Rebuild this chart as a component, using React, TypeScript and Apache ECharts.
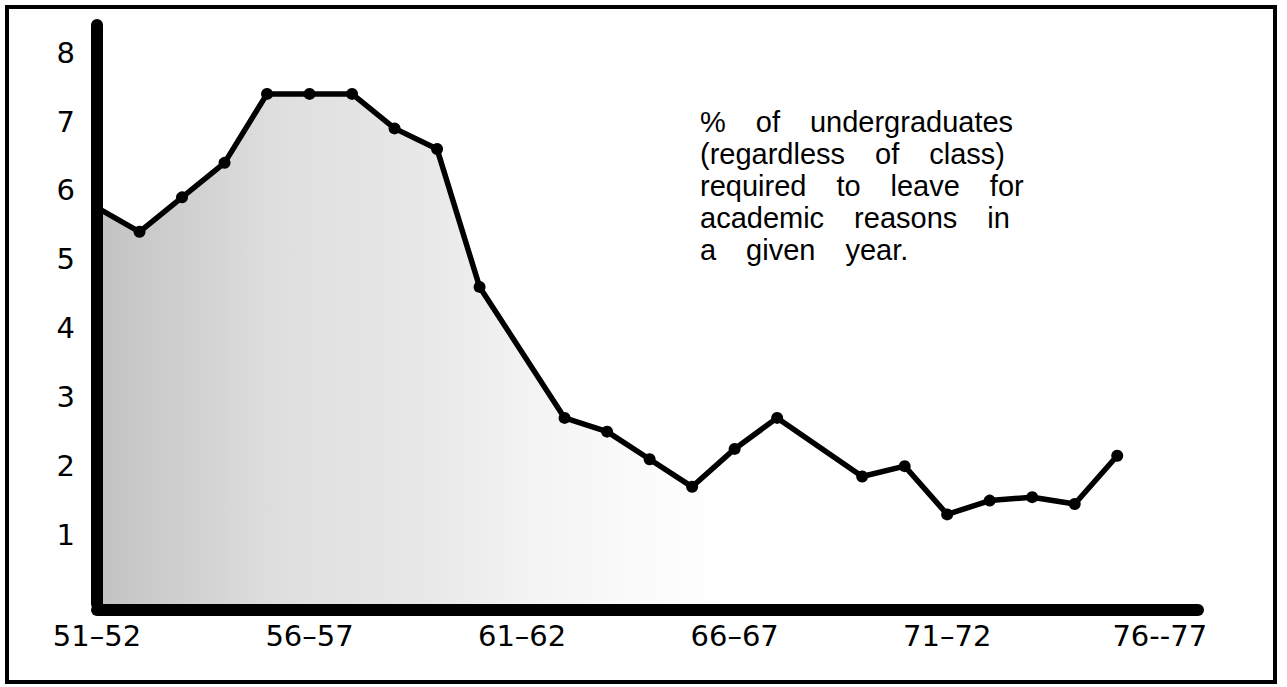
import React, { useEffect, useRef } from 'react';
import * as echarts from 'echarts';

const years: string[] = [
  '51–52', '52–53', '53–54', '54–55', '55–56', '56–57', '57–58', '58–59', '59–60', '60–61',
  '61–62', '62–63', '63–64', '64–65', '65–66', '66–67', '67–68', '68–69', '69–70', '70–71',
  '71–72', '72–73', '73–74', '74–75', '75–76', '76--77',
];

const rates: (number | null)[] = [
  5.75, 5.4, 5.9, 6.4, 7.4, 7.4, 7.4, 6.9, 6.6, 4.6,
  null, 2.7, 2.5, 2.1, 1.7, 2.25, 2.7, null, 1.85, 2.0,
  1.3, 1.5, 1.55, 1.45, 2.15, null,
];

const noteLines: string[] = [
  '% of undergraduates',
  '(regardless of class)',
  'required to leave for',
  'academic reasons in',
  'a given year.',
];

const FONT = '"Liberation Sans", Arial, Helvetica, sans-serif';
const AXIS_FONT = '"DejaVu Sans", "Liberation Sans", sans-serif';
const GAP = '   \u2009';

export default function App() {
  const ref = useRef<HTMLDivElement>(null);
  useEffect(() => {
    const chart = echarts.init(ref.current!, null, { renderer: 'svg' });
    const points = rates
      .map((v, i) => [i, v])
      .filter((p) => p[1] !== null);
    chart.setOption({
      animation: false,
      backgroundColor: '#ffffff',
      grid: { left: 97, right: 89, top: 25, bottom: 83 },
      xAxis: {
        type: 'value',
        min: 0,
        max: 25.9,
        interval: 5,
        offset: 6,
        axisLine: { show: true, onZero: false, lineStyle: { color: '#000', width: 12 } },
        axisTick: { show: false },
        splitLine: { show: false },
        axisLabel: {
          margin: 11,
          fontSize: 29,
          color: '#000',
          fontFamily: AXIS_FONT,
          showMaxLabel: true,
          formatter: (v: number) =>
            Number.isInteger(v) && v % 5 === 0 && v < years.length ? years[v] : '',
        },
      },
      yAxis: {
        type: 'value',
        min: 0,
        max: 8.4,
        interval: 1,
        axisLine: { show: true, lineStyle: { color: '#000', width: 12 } },
        axisTick: { show: false },
        splitLine: { show: false },
        axisLabel: {
          margin: 22,
          fontSize: 29,
          color: '#000',
          fontFamily: AXIS_FONT,
          formatter: (v: number) => (Number.isInteger(v) && v > 0 ? String(v) : ''),
        },
      },
      series: [
        {
          type: 'line',
          data: points,
          symbol: 'circle',
          symbolSize: 12,
          lineStyle: { color: '#000', width: 5.5 },
          itemStyle: { color: '#000' },
          areaStyle: {
            color: new echarts.graphic.LinearGradient(0, 0, 1, 0, [
              { offset: 0, color: 'rgba(0,0,0,0.34)' },
              { offset: 0.08, color: 'rgba(0,0,0,0.27)' },
              { offset: 0.18, color: 'rgba(0,0,0,0.18)' },
              { offset: 0.32, color: 'rgba(0,0,0,0.13)' },
              { offset: 0.42, color: 'rgba(0,0,0,0.07)' },
              { offset: 0.52, color: 'rgba(0,0,0,0.03)' },
              { offset: 0.62, color: 'rgba(0,0,0,0)' },
              { offset: 1, color: 'rgba(0,0,0,0)' },
            ]),
          },
          z: 3,
        },
      ],
      graphic: [
        {
          type: 'rect',
          shape: { x: 7, y: 7, width: 1268, height: 675 },
          style: { fill: 'none', stroke: '#000', lineWidth: 4 },
          silent: true,
        },
        {
          type: 'text',
          left: 700,
          top: 106,
          style: {
            text: noteLines.map((l) => l.split(' ').join(GAP)).join('\n'),
            fontSize: 29,
            lineHeight: 32,
            fontFamily: FONT,
            fill: '#000',
          },
        },
      ],
    });
    return () => chart.dispose();
  }, []);
  return (
    <div
      ref={ref}
      style={{ position: 'fixed', left: 0, top: 0, width: 1287, height: 687 }}
    />
  );
}
